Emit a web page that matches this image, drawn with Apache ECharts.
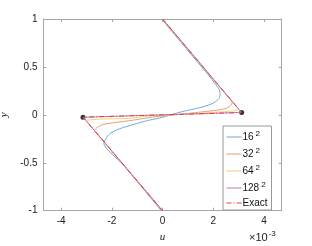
<!DOCTYPE html>
<html><head><meta charset="utf-8">
<script src="https://cdn.jsdelivr.net/npm/echarts@6/dist/echarts.min.js"></script>
<style>html,body{margin:0;padding:0;background:#fff}#c{width:312px;height:246px}</style>
</head><body><div id="c"></div>
<script>
// u in units of 1e-3
const xTicks = [-4, -2, 0, 2, 4];
const yTicks = [-1, -0.5, 0, 0.5, 1];
const seriesNames = ['16', '32', '64', '128', 'Exact'];
const grid16 = [[-0.04,1.0],[0.97,0.68],[1.76,0.43],[2.12,0.31],[2.24,0.26],[2.27,0.21],[2.24,0.175],[2.13,0.145],[1.9,0.11],[1.47,0.075],[0.8,0.035],[0.3,0.0],[0.0,-0.025],[-0.6,-0.06],[-1.15,-0.10],[-1.75,-0.15],[-2.05,-0.19],[-2.2,-0.23],[-2.28,-0.27],[-2.32,-0.30],[-1.56,-0.52],[-0.05,-1.0]];
const grid32 = [[-0.02,1.0],[2.64,0.17],[2.74,0.13],[2.72,0.105],[2.53,0.07],[2.2,0.05],[1.47,0.028],[0.5,0.0],[-0.3,-0.02],[-1.29,-0.06],[-2.0,-0.085],[-2.41,-0.105],[-2.62,-0.14],[-2.69,-0.16],[-2.61,-0.19],[-0.02,-1.0]];
const grid64 = [[-0.01,1.0],[2.93,0.08],[3.0,0.06],[2.9,0.045],[2.53,0.034],[1.47,0.018],[0.5,0.003],[-0.5,-0.01],[-1.29,-0.035],[-2.5,-0.045],[-2.95,-0.055],[-3.02,-0.065],[-2.96,-0.08],[-0.01,-1.0]];
const grid128 = [[0,1.0],[3.05,0.045],[3.1,0.03],[3.0,0.025],[2.0,0.016],[0,0],[-2.0,-0.016],[-3.0,-0.025],[-3.12,-0.03],[-3.07,-0.045],[0,-1.0]];
const exact = [[0,1],[3.12,0.024],[-3.14,-0.024],[0,-1]];
const corners = [[3.12,0.024],[-3.14,-0.024]];

const colors = ['#66AAD7','#E89875','#F4D079','#B282BB','#EA3B3B'];
const axisCol = '#a6a6a6';
const chart = echarts.init(document.getElementById('c'), null, {renderer:'canvas'});
const dataSets = [grid16, grid32, grid64, grid128, exact];
const series = dataSets.map((d,i)=>({
  name: seriesNames[i], type:'line', data:d, xAxisIndex:0, yAxisIndex:0,
  symbol:'none', smooth: i<4 ? 0.2 : false, animation:false,
  lineStyle:{color:colors[i], width:1, type: i===4 ? [5,2,1,2] : 'solid'},
  itemStyle:{color:colors[i]}
}));
series.push({name:'corner', type:'scatter', data:corners, symbol:'circle', symbolSize:5,
  itemStyle:{color:'#000'}, animation:false});
const axBase = {type:'value', axisLine:{show:true, onZero:false, lineStyle:{color:axisCol, width:1}},
  splitLine:{show:false}};
chart.setOption({
  animation:false,
  grid:{left:43.5, right:30.3, top:19, bottom:35.3, containLabel:false, outerBoundsMode:'none'},
  legend:{
    data:seriesNames, orient:'vertical', left:223, top:126,
    itemWidth:15, itemHeight:10, itemGap:5,
    itemStyle:{opacity:0}, lineStyle:{width:1},
    padding:[4,4,2,3], borderColor:'#999', borderWidth:1, backgroundColor:'#fff',
    textStyle:{fontSize:10, color:'#111', fontFamily:'Liberation Sans', padding:[0,0,0,-4],
      rich:{n:{fontSize:10, color:'#111', fontFamily:'Liberation Sans'},
            s:{fontSize:8, color:'#111', fontFamily:'Liberation Sans', padding:[0,0,6,2]}}},
    formatter: n => n==='Exact' ? '{n|Exact}' : '{n|'+n+'}{s|2}'
  },
  xAxis:[
    Object.assign({}, axBase, {min:-4.7, max:4.7, position:'bottom',
      axisTick:{show:true, inside:true, length:3, customValues:xTicks, lineStyle:{color:axisCol}},
      axisLabel:{show:true, customValues:xTicks, fontSize:10, color:'#222', fontFamily:'Liberation Sans', margin:6},
      name:'u', nameLocation:'middle', nameGap:20,
      nameTextStyle:{fontFamily:'Liberation Serif', fontStyle:'italic', fontSize:11, color:'#222'}}),
    Object.assign({}, axBase, {min:-4.7, max:4.7, position:'top',
      axisTick:{show:true, inside:true, length:3, customValues:xTicks, lineStyle:{color:axisCol}},
      axisLabel:{show:false}})
  ],
  yAxis:[
    Object.assign({}, axBase, {min:-1, max:1, interval:0.5, position:'left',
      axisTick:{show:true, inside:true, length:3, lineStyle:{color:axisCol}},
      axisLabel:{fontSize:10, color:'#222', fontFamily:'Liberation Sans', margin:6},
      name:'y', nameLocation:'middle', nameGap:30, nameRotate:90,
      nameTextStyle:{fontFamily:'Liberation Serif', fontStyle:'italic', fontSize:11, color:'#222'}}),
    Object.assign({}, axBase, {min:-1, max:1, interval:0.5, position:'right',
      axisTick:{show:true, inside:true, length:3, lineStyle:{color:axisCol}},
      axisLabel:{show:false}})
  ],
  graphic:[{type:'text', left:249, top:230,
    style:{text:'{a|×10}{b|-3}', rich:{
      a:{fontSize:11, fill:'#222', fontFamily:'Liberation Sans'},
      b:{fontSize:8, fill:'#222', fontFamily:'Liberation Sans', padding:[0,0,8,1]}}}}],
  series: series
});
</script></body></html>
